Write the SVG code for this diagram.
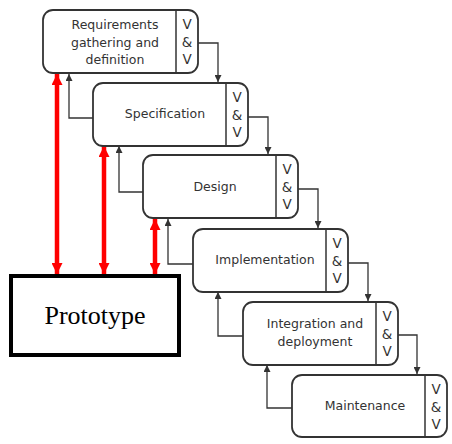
<svg xmlns="http://www.w3.org/2000/svg" width="452" height="444" viewBox="0 0 452 444">
<defs>
<marker id="ah" viewBox="0 0 10 10" refX="10" refY="5" markerWidth="7" markerHeight="7" markerUnits="userSpaceOnUse" orient="auto"><path d="M0,0 L10,5 L0,10 z" fill="#333"/></marker>
<marker id="rh" viewBox="0 0 10 10" refX="10" refY="5" markerWidth="11" markerHeight="11" markerUnits="userSpaceOnUse" orient="auto-start-reverse"><path d="M0,0 L10,5 L0,10 z" fill="#f00"/></marker>
</defs>
<style>
.box{fill:#fff;stroke:#333;stroke-width:1.8}
.div{stroke:#333;stroke-width:1.5}
.t{font-family:"DejaVu Sans",sans-serif;font-size:12.5px;fill:#333;text-anchor:middle}
.v{font-family:"DejaVu Sans",sans-serif;font-size:13.5px;fill:#333;text-anchor:middle}
.c{fill:none;stroke:#333;stroke-width:1.3;marker-end:url(#ah)}
.r{stroke:#f00;stroke-width:4.5;marker-start:url(#rh);marker-end:url(#rh)}
</style>
<g id="connectors">
<path class="c" d="M198,43 H218 V82"/>
<path class="c" d="M248,117 H268 V154"/>
<path class="c" d="M298,189 H318 V228"/>
<path class="c" d="M348,263 H368 V301"/>
<path class="c" d="M398,335 H417 V374"/>
<path class="c" d="M93,118 H69 V74"/>
<path class="c" d="M143,192 H119 V146"/>
<path class="c" d="M193,264 H168 V219"/>
<path class="c" d="M243,336 H218 V292"/>
<path class="c" d="M292,408 H267 V365"/>
<line class="r" x1="57" y1="74" x2="57" y2="274"/>
<line class="r" x1="104" y1="146" x2="104" y2="274"/>
<line class="r" x1="155" y1="219" x2="155" y2="274"/>
</g>
<g id="requirements">
<rect class="box" x="43" y="10" width="155" height="63" rx="10"/>
<line class="div" x1="176" y1="10" x2="176" y2="73"/>
<text class="t" x="115" y="29">Requirements</text>
<text class="t" x="115" y="46.5">gathering and</text>
<text class="t" x="115" y="63.5">definition</text>
<text class="v" x="187" y="29">V</text><text class="v" x="187" y="47">&amp;</text><text class="v" x="187" y="64">V</text>
</g>
<g id="specification">
<rect class="box" x="93" y="83" width="155" height="63" rx="10"/>
<line class="div" x1="226" y1="83" x2="226" y2="146"/>
<text class="t" x="165" y="118">Specification</text>
<text class="v" x="237" y="102">V</text><text class="v" x="237" y="120">&amp;</text><text class="v" x="237" y="137">V</text>
</g>
<g id="design">
<rect class="box" x="143" y="155" width="155" height="63" rx="10"/>
<line class="div" x1="276" y1="155" x2="276" y2="218"/>
<text class="t" x="215" y="191">Design</text>
<text class="v" x="287" y="174">V</text><text class="v" x="287" y="192">&amp;</text><text class="v" x="287" y="209">V</text>
</g>
<g id="implementation">
<rect class="box" x="193" y="229" width="155" height="63" rx="10"/>
<line class="div" x1="326" y1="229" x2="326" y2="292"/>
<text class="t" x="265" y="264">Implementation</text>
<text class="v" x="337" y="248">V</text><text class="v" x="337" y="266">&amp;</text><text class="v" x="337" y="283">V</text>
</g>
<g id="integration">
<rect class="box" x="243" y="302" width="155" height="63" rx="10"/>
<line class="div" x1="376" y1="302" x2="376" y2="365"/>
<text class="t" x="315" y="328">Integration and</text>
<text class="t" x="315" y="346">deployment</text>
<text class="v" x="387" y="321">V</text><text class="v" x="387" y="339">&amp;</text><text class="v" x="387" y="356">V</text>
</g>
<g id="maintenance">
<rect class="box" x="292" y="375" width="155" height="62" rx="10"/>
<line class="div" x1="425" y1="375" x2="425" y2="437"/>
<text class="t" x="365" y="410">Maintenance</text>
<text class="v" x="436" y="394">V</text><text class="v" x="436" y="412">&amp;</text><text class="v" x="436" y="429">V</text>
</g>
<g id="prototype">
<rect x="11" y="276" width="168" height="79" fill="#fff" stroke="#000" stroke-width="4"/>
<text x="95" y="324" font-family="Liberation Serif, serif" font-size="26" text-anchor="middle" fill="#000">Prototype</text>
</g>
</svg>
